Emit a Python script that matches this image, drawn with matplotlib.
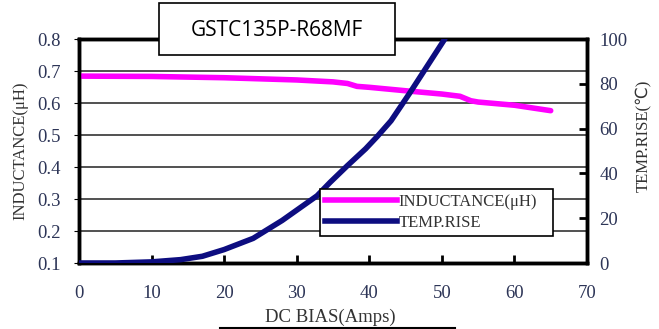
import matplotlib
matplotlib.use("Agg")
import matplotlib.pyplot as plt
from matplotlib.lines import Line2D
from matplotlib.patches import Rectangle

# Data
ind_x = [0, 10, 20, 30, 35, 37, 38.3, 40, 45.6, 50, 52.5, 54, 55, 60, 65]
ind_y = [0.684, 0.683, 0.679, 0.672, 0.666, 0.661, 0.652, 0.649, 0.637, 0.628, 0.621, 0.607, 0.603, 0.593, 0.576]
temp_x = [0, 5, 10, 14, 17, 20, 24, 28, 32.8, 34.6, 37, 39.5, 41.1, 43, 45.6, 47.9, 50.4]
temp_y = [0, 0, 0.5, 1.5, 3, 6, 11, 19, 30, 36, 43.5, 51, 56.5, 63.5, 76, 87.5, 100]
x_ticks = [0, 10, 20, 30, 40, 50, 60, 70]
left_ticks = [0.1, 0.2, 0.3, 0.4, 0.5, 0.6, 0.7, 0.8]
right_ticks = [0, 20, 40, 60, 80, 100]

W, H = 659, 329
fig = plt.figure(figsize=(W/100, H/100), dpi=100)
serif = "Liberation Serif"
tick_col = "#2d3557"
lab_col = "#333333"

ax = fig.add_axes([79/W, 1-263/H, (587-79)/W, (263-39)/H])
ax.set_xlim(0, 70)
ax.set_ylim(0.1, 0.8)
for y in left_ticks[1:-1]:
    ax.axhline(y, color="#333333", lw=1.2, zorder=1)
ax.plot(ind_x, ind_y, color="#ff00ff", lw=4, solid_capstyle="round", zorder=3)
ax.set_yticks(left_ticks)
ax.set_yticklabels([f"{v:.1f}" for v in left_ticks])
ax.tick_params(axis="y", left=False, right=False, labelsize=13.5, labelcolor=tick_col,
               labelfontfamily=serif, pad=10)
for s in ax.spines.values():
    s.set_linewidth(2.5)
    s.set_color("black")

ax2 = ax.twinx()
ax2.set_ylim(0, 100)
ax2.plot(temp_x, temp_y, color="#0d0d80", lw=4, solid_capstyle="round", zorder=3)
ax2.set_yticks(right_ticks)
ax2.tick_params(axis="y", direction="in", length=6, width=2, labelsize=13.5,
                labelcolor=tick_col, labelfontfamily=serif, pad=9)
ax2.set_xlim(0, 70)
ax2.set_xticks(x_ticks)
ax2.xaxis.set_visible(True)
ax2.tick_params(axis="x", bottom=True, top=False, labelbottom=True, direction="in",
                length=6, width=2, color="black", labelsize=13.5, labelcolor=tick_col,
                labelfontfamily=serif, pad=16)
ax.tick_params(axis="x", bottom=False, labelbottom=False)
for s in ax2.spines.values():
    s.set_linewidth(2.5)

fig.text(20/W, 1-151/H, "INDUCTANCE(μH)", rotation=90, ha="center", va="center",
         fontsize=12, family=serif, color=lab_col)
fig.text(644/W, 1-136/H, "TEMP.RISE(℃)", rotation=90, ha="center", va="center",
         fontsize=12, family=[serif, "DejaVu Sans"], color=lab_col)
fig.text(330/W, 1-317/H, "DC BIAS(Amps)", ha="center", va="center",
         fontsize=13.5, family=serif, color=lab_col)
fig.add_artist(Line2D([220/W, 455/W], [1-327.5/H, 1-327.5/H], color="black", lw=1.5))

handles = [Line2D([], [], color="#ff00ff", lw=4), Line2D([], [], color="#0d0d80", lw=4)]
leg = ax2.legend(handles, ["INDUCTANCE(μH)", "TEMP.RISE"], loc="lower left",
                 bbox_to_anchor=((320-79)/(587-79), (263-236)/(263-39), (553-320)/(587-79), (236-183)/(263-39)),
                 mode="expand", fancybox=False, framealpha=1, edgecolor="black",
                 prop={"family": serif, "size": 12}, handlelength=4.3, handletextpad=0.1,
                 borderpad=0.3, labelspacing=0.3, borderaxespad=0)
leg.get_frame().set_linewidth(1.2)
for t in leg.get_texts():
    t.set_color(lab_col)
leg.set_zorder(10)

fig.add_artist(Rectangle((159/W, 1-55/H), (395-159)/W, (55-3)/H, transform=fig.transFigure,
                         facecolor="white", edgecolor="black", lw=1.2, zorder=20))
fig.text(277/W, 1-30/H, "GSTC135P-R68MF", ha="center", va="center",
         fontsize=15, family="Open Sans", color="black", zorder=21)

fig.savefig("out.png", dpi=100)
